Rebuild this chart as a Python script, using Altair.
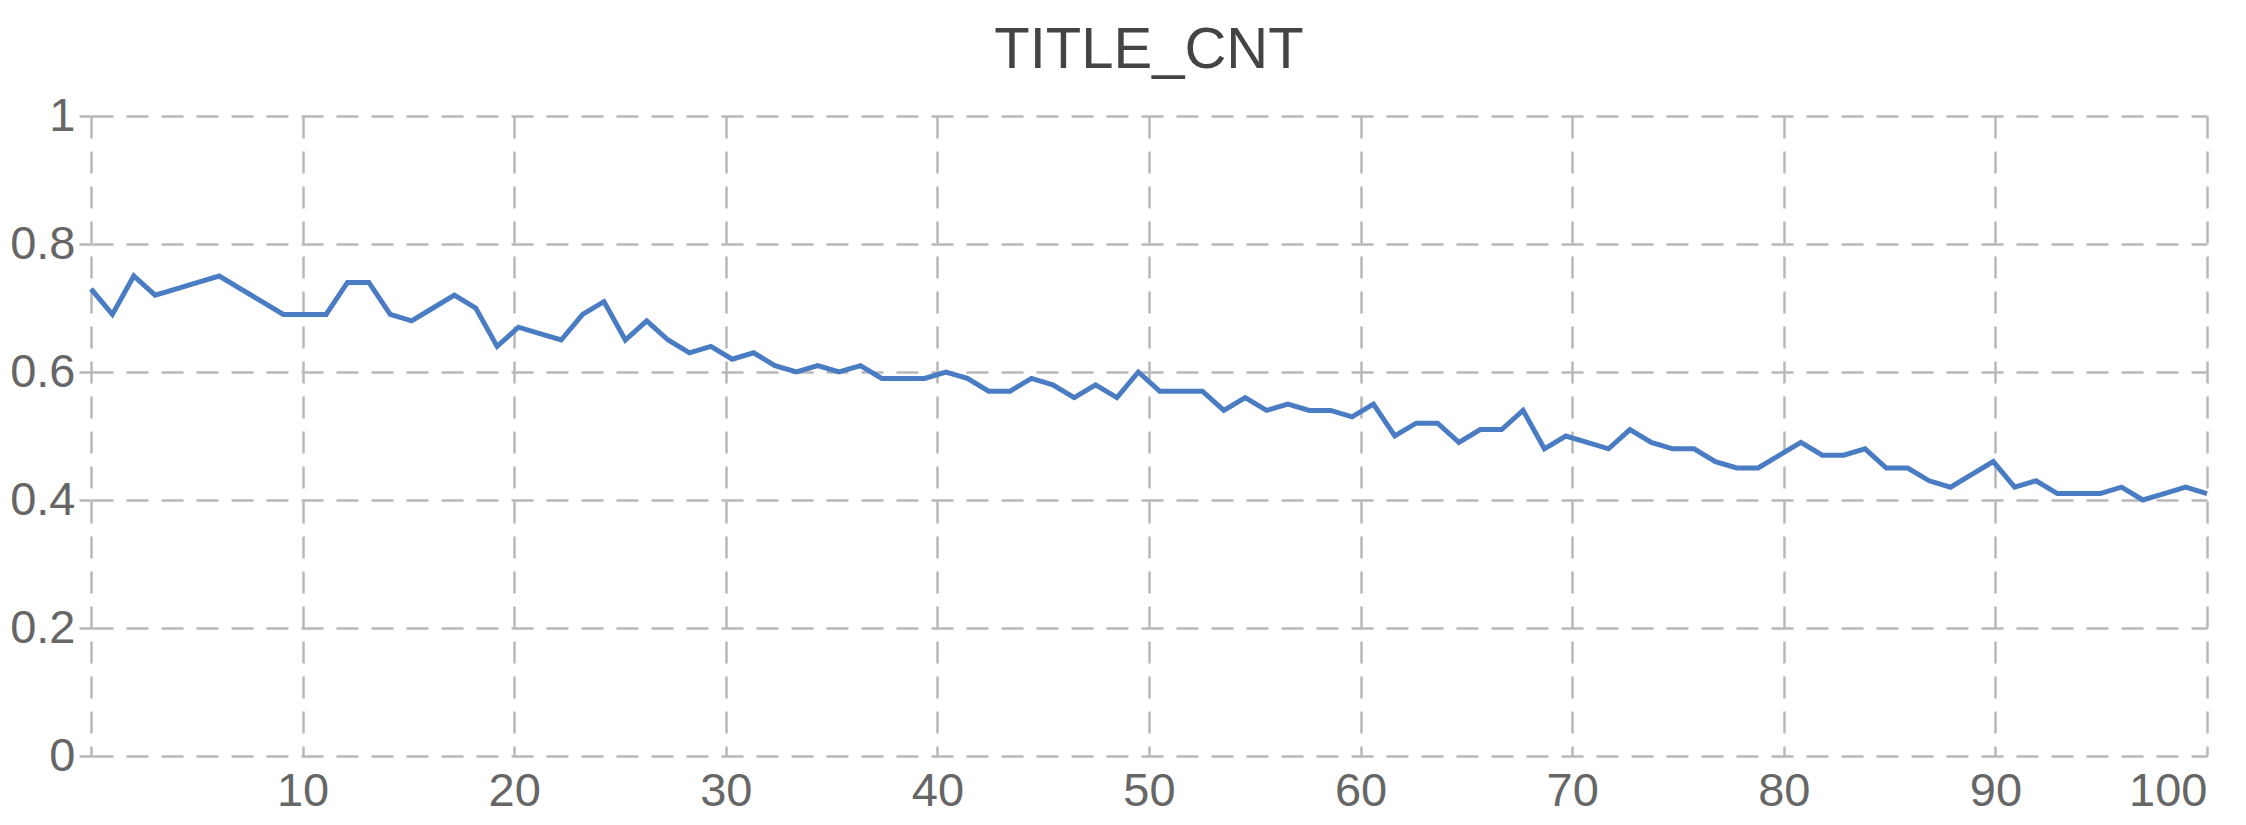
import altair as alt
import pandas as pd

# Series values (100 evenly spaced samples over 0..100)
values = [0.73, 0.69, 0.75, 0.72, 0.73, 0.74, 0.75, 0.73, 0.71, 0.69,
          0.69, 0.69, 0.74, 0.74, 0.69, 0.68, 0.70, 0.72, 0.70, 0.64,
          0.67, 0.66, 0.65, 0.69, 0.71, 0.65, 0.68, 0.65, 0.63, 0.64,
          0.62, 0.63, 0.61, 0.60, 0.61, 0.60, 0.61, 0.59, 0.59, 0.59,
          0.60, 0.59, 0.57, 0.57, 0.59, 0.58, 0.56, 0.58, 0.56, 0.60,
          0.57, 0.57, 0.57, 0.54, 0.56, 0.54, 0.55, 0.54, 0.54, 0.53,
          0.55, 0.50, 0.52, 0.52, 0.49, 0.51, 0.51, 0.54, 0.48, 0.50,
          0.49, 0.48, 0.51, 0.49, 0.48, 0.48, 0.46, 0.45, 0.45, 0.47,
          0.49, 0.47, 0.47, 0.48, 0.45, 0.45, 0.43, 0.42, 0.44, 0.46,
          0.42, 0.43, 0.41, 0.41, 0.41, 0.42, 0.40, 0.41, 0.42, 0.41]
x_ticks = [0, 10, 20, 30, 40, 50, 60, 70, 80, 90, 100]
y_ticks = [0, 0.2, 0.4, 0.6, 0.8, 1]
title_text = "TITLE_CNT"

n = len(values)
xs = [i * 100 / (n - 1) for i in range(n)]
df = pd.DataFrame({"x": xs, "y": values})

FONT = "Liberation Sans"
GRID = "#b8b8b8"

chart = alt.Chart(df).mark_line(color="#4a7cc4", strokeWidth=5).encode(
    x=alt.X("x:Q",
            scale=alt.Scale(domain=[0, 100], nice=False, zero=False),
            axis=alt.Axis(values=x_ticks, title=None, domain=False,
                          labelExpr="datum.value == 0 ? '' : datum.label",
                          ticks=True, tickSize=0, labelPadding=12,
                          labelFontSize=47, labelFont=FONT, labelColor="#666666",
                          grid=True, gridColor=GRID, gridWidth=2.5, gridDash=[22, 13])),
    y=alt.Y("y:Q",
            scale=alt.Scale(domain=[0, 1], nice=False),
            axis=alt.Axis(values=y_ticks, title=None, domain=False, format="~g",
                          ticks=True, tickSize=12, tickColor=GRID, tickWidth=2.5,
                          labelPadding=4,
                          labelFontSize=47, labelFont=FONT, labelColor="#666666",
                          grid=True, gridColor=GRID, gridWidth=2.5, gridDash=[22, 13])),
).properties(
    width=2116,
    height=640,
    title=alt.TitleParams(title_text, fontSize=58, font=FONT, fontWeight="normal",
                          color="#444444", anchor="middle", offset=12),
    autosize=alt.AutoSizeParams(type="none"),
    padding={"left": 83, "top": 108, "right": 31, "bottom": 61},
).configure_view(stroke=None)

chart.save("out.html", embed_options={"renderer": "svg", "actions": False})
